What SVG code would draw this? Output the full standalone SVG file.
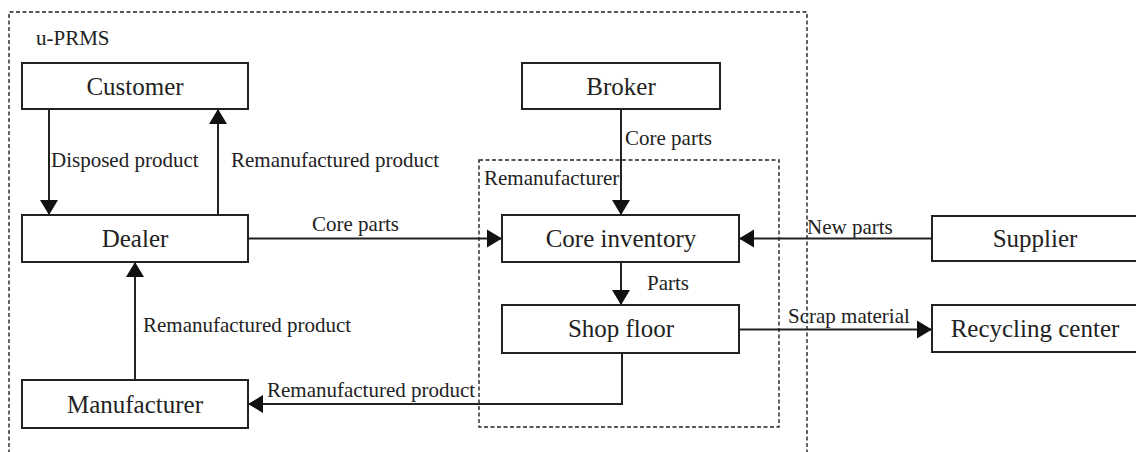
<svg xmlns="http://www.w3.org/2000/svg" width="1136" height="452" viewBox="0 0 1136 452">
<style>
.box{fill:#fff;stroke:#222;stroke-width:2}
.dash{fill:none;stroke:#222;stroke-width:1.4;stroke-dasharray:4 2.5}
.ln{fill:none;stroke:#222;stroke-width:2}
.nl{font-family:"Liberation Serif",serif;font-size:25px;fill:#222;text-anchor:middle}
.el{font-family:"Liberation Serif",serif;font-size:21px;fill:#222}
</style>
<defs>
<marker id="ah" markerUnits="userSpaceOnUse" markerWidth="16" markerHeight="20" refX="15" refY="10" orient="auto">
<path d="M0,1 L15,10 L0,19 z" fill="#111"/>
</marker>
</defs>
<rect width="1136" height="452" fill="#fff"/>
<g id="u-prms">
<path class="dash" d="M9,460 V12 H807 V460"/>
<text class="el" x="36" y="45">u-PRMS</text>
</g>
<g id="remanufacturer">
<rect class="dash" x="479" y="160" width="300" height="267"/>
<text class="el" x="484" y="185">Remanufacturer</text>
</g>
<g id="connectors">
<line class="ln" x1="49" y1="109" x2="49" y2="215" marker-end="url(#ah)"/>
<line class="ln" x1="218" y1="215" x2="218" y2="109" marker-end="url(#ah)"/>
<line class="ln" x1="248" y1="238.5" x2="502" y2="238.5" marker-end="url(#ah)"/>
<line class="ln" x1="621" y1="109" x2="621" y2="215" marker-end="url(#ah)"/>
<line class="ln" x1="932" y1="238.5" x2="739" y2="238.5" marker-end="url(#ah)"/>
<line class="ln" x1="621" y1="262" x2="621" y2="305" marker-end="url(#ah)"/>
<line class="ln" x1="739" y1="329.5" x2="932" y2="329.5" marker-end="url(#ah)"/>
<line class="ln" x1="135" y1="380" x2="135" y2="262" marker-end="url(#ah)"/>
<polyline class="ln" points="622,353 622,404 248,404" marker-end="url(#ah)"/>
<text class="el" x="51" y="167">Disposed product</text>
<text class="el" x="231" y="167">Remanufactured product</text>
<text class="el" x="312" y="231">Core parts</text>
<text class="el" x="625" y="145">Core parts</text>
<text class="el" x="807" y="234">New parts</text>
<text class="el" x="647" y="290">Parts</text>
<text class="el" x="788" y="323">Scrap material</text>
<text class="el" x="143" y="332">Remanufactured product</text>
<text class="el" x="267" y="397">Remanufactured product</text>
</g>
<g id="customer"><rect class="box" x="22" y="63" width="226" height="46"/><text class="nl" x="135" y="95">Customer</text></g>
<g id="dealer"><rect class="box" x="22" y="215" width="226" height="47"/><text class="nl" x="135" y="247">Dealer</text></g>
<g id="manufacturer"><rect class="box" x="22" y="380" width="226" height="48"/><text class="nl" x="135" y="413">Manufacturer</text></g>
<g id="broker"><rect class="box" x="522" y="63" width="198" height="46"/><text class="nl" x="621" y="95">Broker</text></g>
<g id="core-inventory"><rect class="box" x="502" y="215" width="237" height="47"/><text class="nl" x="621" y="247">Core inventory</text></g>
<g id="shop-floor"><rect class="box" x="502" y="305" width="237" height="48"/><text class="nl" x="621" y="337">Shop floor</text></g>
<g id="supplier"><rect class="box" x="932" y="216" width="220" height="45"/><text class="nl" x="1035" y="247">Supplier</text></g>
<g id="recycling-center"><rect class="box" x="932" y="305" width="220" height="47"/><text class="nl" x="1035" y="337">Recycling center</text></g>
</svg>
